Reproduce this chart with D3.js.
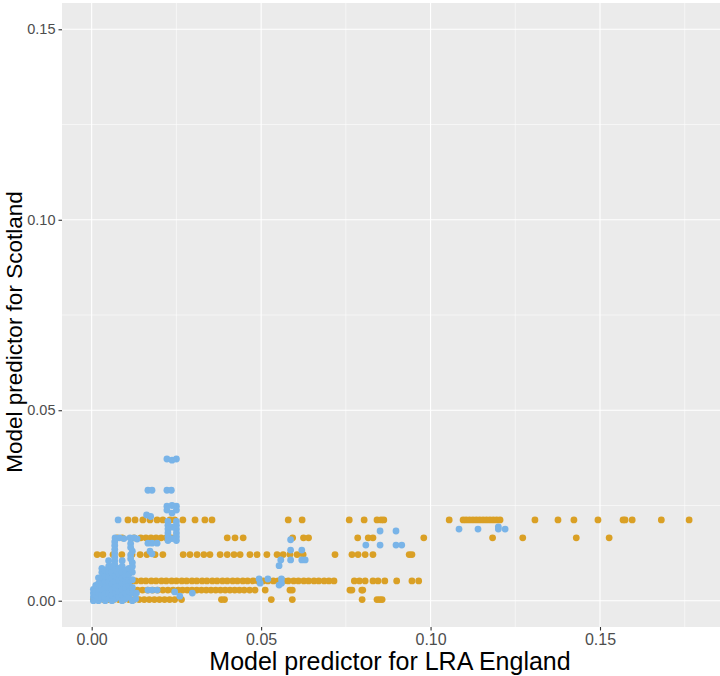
<!DOCTYPE html>
<html><head><meta charset="utf-8">
<script src="https://cdn.jsdelivr.net/npm/d3@7"></script>
<style>html,body{margin:0;padding:0;background:#fff;}</style>
</head><body><svg id="c" width="720" height="676"></svg>
<script>
// ---- data ----
const xTicks = [0.00, 0.05, 0.10, 0.15];
const yTicks = [0.00, 0.05, 0.10, 0.15];
const xMinor = [0.025, 0.075, 0.125, 0.175];
const yMinor = [0.025, 0.075, 0.125];
const xTickLabels = ["0.00", "0.05", "0.10", "0.15"];
const yTickLabels = ["0.00", "0.05", "0.10", "0.15"];

// LRA (orange) series: Scotland levels and England x-values per level
const lraLevels = [0.0212, 0.0165, 0.0121, 0.0052, 0.0028, 0.0003];
const lraRowA = [0.0107,0.0128,0.0151,0.0172,0.0193,0.0210,0.0231,0.0245,0.0269,0.0305,0.0334,0.0355,0.0580,0.0621,0.0760,0.0804,0.0842,0.0854,0.0862,0.1055,0.1096,0.1105,0.1115,0.1125,0.1135,0.1145,0.1155,0.1165,0.1175,0.1185,0.1195,0.1205,0.1308,0.1376,0.1423,0.1494,0.1568,0.1574,0.1595,0.1681,0.1763];
const lraRowB = [0.0075,0.0090,0.0125,0.0145,0.0160,0.0175,0.0190,0.0205,0.0220,0.0235,0.0245,0.0400,0.0423,0.0447,0.0593,0.0625,0.0640,0.0785,0.0816,0.0830,0.0980,0.1183,0.1272,0.1430,0.1527];
const lraRowC = [0.0016,0.0033,0.0063,0.0089,0.0119,0.0143,0.0163,0.0187,0.0210,0.0270,0.0290,0.0311,0.0331,0.0349,0.0379,0.0400,0.0420,0.0438,0.0467,0.0488,0.0517,0.0547,0.0565,0.0585,0.0606,0.0624,0.0718,0.0768,0.0786,0.0807,0.0830,0.0937,0.0945];
const lraRowD = [0.0025,0.0040,0.0056,0.0070,0.0086,0.0100,0.0116,0.0130,0.0146,0.0160,0.0176,0.0190,0.0206,0.0220,0.0236,0.0250,0.0266,0.0280,0.0296,0.0310,0.0326,0.0340,0.0356,0.0370,0.0386,0.0400,0.0416,0.0430,0.0446,0.0460,0.0476,0.0490,0.0506,0.0520,0.0536,0.0550,0.0566,0.0580,0.0596,0.0610,0.0626,0.0640,0.0656,0.0670,0.0686,0.0700,0.0715,0.0775,0.0790,0.0807,0.0830,0.0845,0.0865,0.0900,0.0945,0.0965];
const lraRowE = [0.0030,0.0060,0.0090,0.0120,0.0135,0.0150,0.0165,0.0180,0.0195,0.0210,0.0225,0.0240,0.0255,0.0268,0.0282,0.0296,0.0310,0.0324,0.0338,0.0352,0.0366,0.0380,0.0394,0.0408,0.0422,0.0436,0.0450,0.0466,0.0482,0.0512,0.0585,0.0592,0.0762,0.0768,0.0797,0.0800];
const lraRowF = [0.0005,0.0020,0.0035,0.0050,0.0065,0.0080,0.0095,0.0110,0.0125,0.0140,0.0155,0.0170,0.0185,0.0200,0.0215,0.0230,0.0245,0.0265,0.0383,0.0392,0.0530,0.0592,0.0798,0.0842,0.0850,0.0857];
const lraRows = [lraRowA, lraRowB, lraRowC, lraRowD, lraRowE, lraRowF];

// Scotland (blue) series: [England, Scotland]
const scotPoints = [
 [0.0222,0.0372],[0.0237,0.0369],[0.0250,0.0372],
 [0.0166,0.0290],[0.0178,0.0290],[0.0222,0.0290],[0.0235,0.0290],
 [0.0222,0.0248],[0.0237,0.0250],[0.0250,0.0248],[0.0222,0.0238],[0.0250,0.0238],[0.0237,0.0230],
 [0.0162,0.0225],[0.0174,0.0221],
 [0.0225,0.0208],[0.0250,0.0208],[0.0225,0.0198],[0.0250,0.0198],[0.0225,0.0188],[0.0250,0.0188],
 [0.0225,0.0178],[0.0250,0.0178],[0.0225,0.0168],[0.0250,0.0168],[0.0225,0.0158],[0.0250,0.0158],
 [0.0237,0.0163],[0.0237,0.0193],
 [0.0078,0.0212],
 [0.0069,0.0165],[0.0082,0.0165],[0.0095,0.0163],[0.0113,0.0165],[0.0125,0.0165],[0.0134,0.0162],
 [0.0166,0.0151],[0.0178,0.0151],[0.0193,0.0151],[0.0172,0.0130],[0.0178,0.0123],
 [0.0068,0.0155],[0.0068,0.0145],[0.0068,0.0135],[0.0068,0.0125],[0.0068,0.0115],[0.0068,0.0105],[0.0068,0.0095],
 [0.0115,0.0150],[0.0115,0.0140],[0.0120,0.0130],[0.0115,0.0120],[0.0115,0.0110],[0.0120,0.0100],
 [0.0005,0.0000],[0.0005,0.0010],[0.0005,0.0020],[0.0005,0.0030],
 [0.0012,0.0005],[0.0012,0.0015],[0.0012,0.0025],[0.0012,0.0040],
 [0.0020,0.0000],[0.0020,0.0010],[0.0020,0.0020],[0.0020,0.0030],[0.0020,0.0045],[0.0020,0.0060],
 [0.0030,0.0005],[0.0030,0.0015],[0.0030,0.0030],[0.0030,0.0045],[0.0030,0.0060],[0.0030,0.0075],[0.0030,0.0085],
 [0.0040,0.0000],[0.0040,0.0010],[0.0040,0.0020],[0.0040,0.0035],[0.0040,0.0050],[0.0040,0.0065],[0.0040,0.0080],
 [0.0050,0.0005],[0.0050,0.0020],[0.0050,0.0035],[0.0050,0.0050],[0.0050,0.0065],[0.0050,0.0078],[0.0050,0.0090],[0.0050,0.0105],
 [0.0060,0.0000],[0.0060,0.0015],[0.0060,0.0030],[0.0060,0.0045],[0.0060,0.0060],[0.0060,0.0075],[0.0060,0.0090],
 [0.0070,0.0005],[0.0070,0.0020],[0.0070,0.0035],[0.0070,0.0050],[0.0070,0.0065],[0.0070,0.0080],
 [0.0080,0.0010],[0.0080,0.0025],[0.0080,0.0040],[0.0080,0.0055],[0.0080,0.0070],[0.0080,0.0085],
 [0.0090,0.0000],[0.0090,0.0015],[0.0090,0.0030],[0.0090,0.0045],[0.0090,0.0060],[0.0090,0.0075],[0.0090,0.0090],[0.0090,0.0105],
 [0.0100,0.0005],[0.0100,0.0020],[0.0100,0.0035],[0.0100,0.0050],[0.0100,0.0065],[0.0100,0.0080],
 [0.0110,0.0010],[0.0110,0.0025],[0.0110,0.0040],[0.0110,0.0055],[0.0110,0.0070],[0.0110,0.0085],
 [0.0120,0.0000],[0.0120,0.0020],[0.0120,0.0035],[0.0120,0.0055],[0.0120,0.0075],[0.0120,0.0090],
 [0.0130,0.0005],[0.0132,0.0020],
 [0.0166,0.0028],[0.0178,0.0028],[0.0193,0.0028],[0.0245,0.0023],[0.0260,0.0012],[0.0297,0.0020],
 [0.0494,0.0057],[0.0520,0.0057],[0.0560,0.0057],[0.0497,0.0046],[0.0553,0.0041],[0.0560,0.0046],
 [0.0587,0.0160],[0.0587,0.0133],[0.0620,0.0133],[0.0558,0.0107],[0.0587,0.0107],[0.0620,0.0107],[0.0630,0.0107],[0.0553,0.0092],
 [0.0851,0.0183],[0.0898,0.0183],[0.0809,0.0146],[0.0851,0.0146],[0.0898,0.0146],[0.0915,0.0146],
 [0.1084,0.0188],[0.1140,0.0188],[0.1200,0.0194],[0.1200,0.0188],[0.1220,0.0188]
];

// ---- layout ----
const svg = d3.select("#c");
const P = {l: 62, r: 720, t: 3, b: 627};
const xs = d3.scaleLinear().domain([-0.00876, 0.18541]).range([P.l, P.r]);
const ys = d3.scaleLinear().domain([-0.0069, 0.1569]).range([P.b, P.t]);
const FONT = "Liberation Sans, Arial, sans-serif";

svg.append("rect").attr("x", P.l).attr("y", P.t).attr("width", P.r - P.l).attr("height", P.b - P.t).attr("fill", "#EBEBEB");

const g = svg.append("g");
g.selectAll(".vmin").data(xMinor).join("line").attr("x1", d => xs(d)).attr("x2", d => xs(d)).attr("y1", P.t).attr("y2", P.b).attr("stroke", "#fff").attr("stroke-width", 0.55);
g.selectAll(".hmin").data(yMinor).join("line").attr("y1", d => ys(d)).attr("y2", d => ys(d)).attr("x1", P.l).attr("x2", P.r).attr("stroke", "#fff").attr("stroke-width", 0.55);
g.selectAll(".vmaj").data(xTicks).join("line").attr("x1", d => xs(d)).attr("x2", d => xs(d)).attr("y1", P.t).attr("y2", P.b).attr("stroke", "#fff").attr("stroke-width", 1.1);
g.selectAll(".hmaj").data(yTicks).join("line").attr("y1", d => ys(d)).attr("y2", d => ys(d)).attr("x1", P.l).attr("x2", P.r).attr("stroke", "#fff").attr("stroke-width", 1.1);

// axes
const xAxis = d3.axisBottom(xs).tickValues(xTicks).tickFormat((d, i) => xTickLabels[i]).tickSize(3.5).tickPadding(3);
const yAxis = d3.axisLeft(ys).tickValues(yTicks).tickFormat((d, i) => yTickLabels[i]).tickSize(3.5).tickPadding(3);
const gx = svg.append("g").attr("transform", `translate(0,${P.b})`).call(xAxis);
const gy = svg.append("g").attr("transform", `translate(${P.l},0)`).call(yAxis);
[gx, gy].forEach(a => {
  a.select(".domain").remove();
  a.selectAll(".tick line").attr("stroke", "#333").attr("stroke-width", 1.1);
  a.selectAll(".tick text").attr("fill", "#4D4D4D").style("font-family", FONT);
});
gx.selectAll(".tick text").style("font-size", "16px");
gy.selectAll(".tick text").style("font-size", "14.5px");

// points
const lraData = [];
lraRows.forEach((row, i) => row.forEach(v => lraData.push([v, lraLevels[i]])));
svg.append("g").selectAll("circle").data(lraData).join("circle")
  .attr("cx", d => xs(d[0])).attr("cy", d => ys(d[1])).attr("r", 3.4).attr("fill", "#DAA025");
svg.append("g").selectAll("circle").data(scotPoints).join("circle")
  .attr("cx", d => xs(d[0])).attr("cy", d => ys(d[1])).attr("r", 3.4).attr("fill", "#79B4E8");

// titles
svg.append("text").attr("x", 390).attr("y", 670).attr("text-anchor", "middle")
  .style("font-family", FONT).style("font-size", "25px").attr("fill", "#000")
  .text("Model predictor for LRA England");
svg.append("text").attr("transform", `translate(22,332) rotate(-90)`).attr("text-anchor", "middle")
  .style("font-family", FONT).style("font-size", "22.5px").attr("fill", "#000")
  .text("Model predictor for Scotland");
</script></body></html>
